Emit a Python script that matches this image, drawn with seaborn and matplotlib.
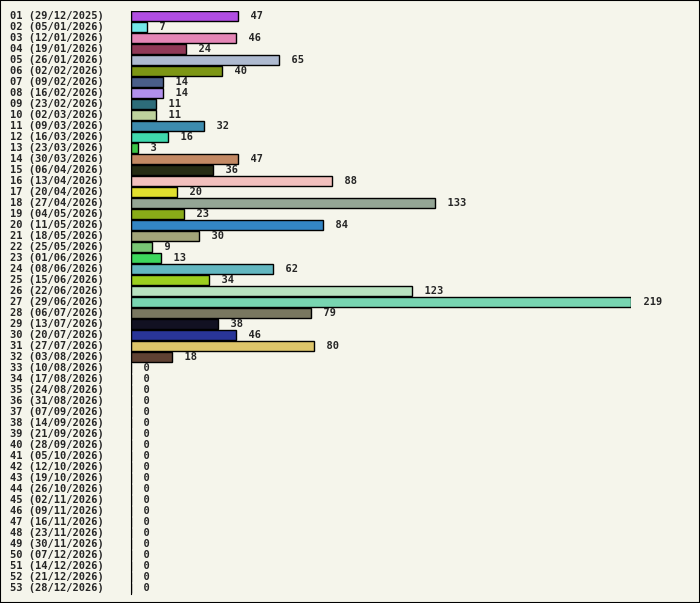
import matplotlib
matplotlib.use("Agg")
import matplotlib.pyplot as plt
import seaborn as sns
import pandas as pd
from datetime import date, timedelta

weeks = [f"{i:02d} ({(date(2025,12,29)+timedelta(weeks=i-1)).strftime('%d/%m/%Y')})" for i in range(1, 54)]
values = [47,7,46,24,65,40,14,14,11,11,32,16,3,47,36,88,20,133,23,84,30,9,13,62,34,123,219,79,38,46,80,18] + [0]*21
colors = ["#b935fb","#5ffcfb","#f476b6","#9e2a53","#a8b8d6","#8aab00","#3f5a94","#ae81fb","#217585","#c0db94",
          "#2a92c1","#25f2b8","#25db35","#d38654","#283010","#fbb8b4","#fdfb11","#91a893","#96c300","#1b88dc",
          "#a9ab72","#6cd366","#24f04e","#53c3d0","#a7ed00","#b1e9bc","#68e5b5","#7d7a5c","#0f0e25","#1627aa",
          "#f0d057","#663e2c"] + ["#888888"]*21

bg = "#f5f5eb"
sns.set_style("white")
plt.rcParams['font.family'] = ['DejaVu Sans Mono']
df = pd.DataFrame({"week": weeks, "value": values})

fig = plt.figure(figsize=(7, 6.03), dpi=100, facecolor=bg)
fig.patches.append(plt.Rectangle((0.0007, 0.0008), 0.9986, 0.9984, transform=fig.transFigure,
                                 fill=False, edgecolor="black", linewidth=1.5))
ax = fig.add_axes([131/700, 1-593.5/603, 500/700, 583/603])
ax.set_facecolor(bg)
sns.barplot(data=df, y="week", x="value", hue="week", palette=colors, legend=False,
            orient="h", width=0.9, edgecolor="black", linewidth=1, ax=ax)
ax.set_xlim(0, 219)
ax.set_ylim(52.5, -0.5)
for s in ["top", "right", "bottom"]:
    ax.spines[s].set_visible(False)
ax.spines["left"].set_color("black")
ax.set_xticks([])
ax.set_yticks([])
ax.set_xlabel(""); ax.set_ylabel("")
for i, (w, v) in enumerate(zip(weeks, values)):
    ax.text(v, i, f"  {v}", va="center", ha="left", fontsize=7.5, fontweight="bold", clip_on=False)
    ax.text(-121/500, i, w, transform=ax.get_yaxis_transform(), va="center", ha="left",
            fontsize=7.5, fontweight="bold")
fig.savefig("out.png", dpi=100, facecolor=bg)
